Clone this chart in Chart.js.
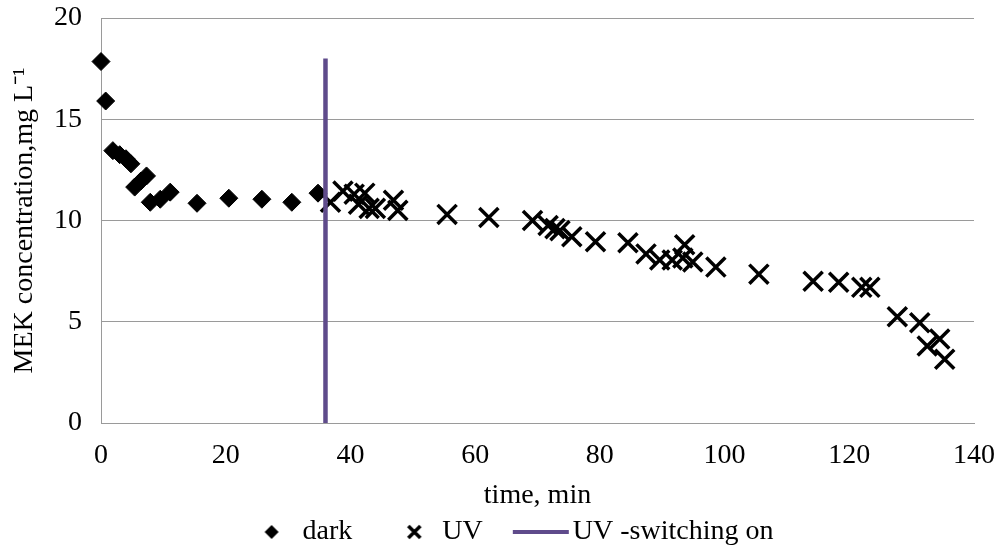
<!DOCTYPE html>
<html>
<head>
<meta charset="utf-8">
<title>MEK concentration</title>
<script src="https://cdn.jsdelivr.net/npm/chart.js@4.4.0/dist/chart.umd.min.js"></script>
<style>
  html, body { margin: 0; padding: 0; background: #fff; }
</style>
</head>
<body>
<canvas id="grafico" width="997" height="552"></canvas>
<script>
// dark phase (before the lamp)
const tempoEscuro = [0, 0.75, 1.9, 3.0, 4.0, 4.8, 5.4, 6.4, 7.3, 7.9, 9.5, 11.1, 15.4, 20.5, 25.8, 30.6, 34.8];
const mekEscuro = [17.85, 15.9, 13.45, 13.25, 13.05, 12.8, 11.65, 11.95, 12.2, 10.9, 11.05, 11.4, 10.85, 11.1, 11.05, 10.9, 11.35];

// UV phase
const tempoUV = [36.8, 38.8, 40.6, 41.3, 42.3, 43.0, 44.0, 46.9, 47.6, 55.5, 62.2, 69.2, 71.7, 72.8, 73.6, 75.5, 79.3, 84.5, 87.4, 89.6, 91.6, 93.3, 93.6, 94.9, 98.6, 105.5, 114.2, 118.3, 122.0, 123.3, 127.7, 131.3, 132.5, 134.5, 135.3];
const mekUV = [10.9, 11.45, 11.3, 10.8, 11.35, 10.6, 10.6, 11.0, 10.5, 10.3, 10.15, 10.0, 9.75, 9.6, 9.5, 9.2, 8.95, 8.9, 8.35, 8.05, 8.05, 8.15, 8.8, 7.95, 7.7, 7.35, 7.0, 6.95, 6.7, 6.7, 5.25, 4.95, 3.8, 4.15, 3.15];

// moment the lamp is switched on
const tempoLigar = [36, 36];
const mekLigar = [0, 18];

const ticksX = [0, 20, 40, 60, 80, 100, 120, 140];
const ticksY = [0, 5, 10, 15, 20];
const nomes = ["dark", "UV", "UV -switching on"];

const roxo = "#5f4b8b";
const cinza = "#9a9a9a";
const fonte = "'Liberation Serif', 'Times New Roman', serif";
const tamanho = 28;

function pontos(xs, ys) {
  return xs.map((x, i) => ({ x: x, y: ys[i] }));
}

// small canvases used as legend symbols
function icone(desenho) {
  const c = document.createElement("canvas");
  c.width = 120;
  c.height = 24;
  const ctx = c.getContext("2d");
  desenho(ctx);
  return c;
}

const iconeDark = icone((ctx) => {
  ctx.fillStyle = "#000";
  ctx.beginPath();
  ctx.moveTo(78, 5);
  ctx.lineTo(85, 12);
  ctx.lineTo(78, 19);
  ctx.lineTo(71, 12);
  ctx.closePath();
  ctx.fill();
});

const iconeUV = icone((ctx) => {
  ctx.strokeStyle = "#000";
  ctx.lineWidth = 3.5;
  ctx.beginPath();
  ctx.moveTo(75, 6);
  ctx.lineTo(87, 18);
  ctx.moveTo(87, 6);
  ctx.lineTo(75, 18);
  ctx.stroke();
});

const iconeLinha = icone((ctx) => {
  ctx.fillStyle = roxo;
  ctx.fillRect(49, 10, 56, 4);
});

const icones = [iconeDark, iconeUV, iconeLinha];

const ctx = document.getElementById("grafico").getContext("2d");

const grafico = new Chart(ctx, {
  type: "scatter",
  data: {
    datasets: [
      {
        label: nomes[0],
        data: pontos(tempoEscuro, mekEscuro),
        pointStyle: "rectRot",
        pointRadius: 9,
        pointBorderWidth: 1,
        backgroundColor: "#000",
        borderColor: "#000",
        clip: false,
        order: 2,
      },
      {
        label: nomes[1],
        data: pontos(tempoUV, mekUV),
        pointStyle: "crossRot",
        pointRadius: 13.5,
        pointBorderWidth: 3.5,
        backgroundColor: "#000",
        borderColor: "#000",
        clip: false,
        order: 1,
      },
      {
        label: nomes[2],
        data: pontos(tempoLigar, mekLigar),
        showLine: true,
        pointRadius: 0,
        borderColor: roxo,
        backgroundColor: roxo,
        borderWidth: 4.5,
        clip: false,
        order: 0,
      },
    ],
  },
  options: {
    responsive: false,
    animation: false,
    layout: {
      padding: { left: 18, right: 23, top: 18, bottom: -4 },
    },
    plugins: {
      tooltip: { enabled: false },
      legend: {
        position: "bottom",
        labels: {
          usePointStyle: true,
          pointStyleWidth: 70,
          padding: 6,
          color: "#000",
          font: { family: fonte, size: tamanho },
          generateLabels: (chart) =>
            chart.data.datasets.map((ds, i) => ({
              text: ds.label,
              pointStyle: icones[i],
              datasetIndex: i,
              hidden: false,
              lineWidth: 0,
              fontColor: "#000",
            })),
        },
      },
    },
    scales: {
      x: {
        type: "linear",
        min: 0,
        max: 140,
        afterBuildTicks: (s) => {
          s.ticks = ticksX.map((v) => ({ value: v }));
        },
        afterFit: (s) => {
          s.height = 89;
          s.paddingLeft = 0;
          s.paddingRight = 0;
        },
        grid: { display: false, drawTicks: false },
        border: { display: true, color: cinza, width: 1 },
        ticks: {
          padding: 16,
          maxRotation: 0,
          color: "#000",
          font: { family: fonte, size: tamanho },
        },
        title: {
          display: true,
          text: "time, min",
          color: "#000",
          font: { family: fonte, size: tamanho },
          padding: { top: 0, bottom: 0 },
        },
      },
      y: {
        type: "linear",
        min: 0,
        max: 20,
        afterBuildTicks: (s) => {
          s.ticks = ticksY.map((v) => ({ value: v }));
        },
        afterFit: (s) => {
          s.width = 83;
          s.paddingTop = 0;
          s.paddingBottom = 0;
        },
        grid: { color: cinza, lineWidth: 1, drawTicks: false },
        border: { display: true, color: cinza, width: 1 },
        ticks: {
          padding: 19,
          color: "#000",
          font: { family: fonte, size: tamanho },
        },
        title: {
          display: true,
          text: "MEK concentration,mg L\u207B\u00B9",
          color: "#000",
          font: { family: fonte, size: tamanho },
          padding: { top: -10, bottom: 0 },
        },
      },
    },
  },
});
</script>
</body>
</html>
